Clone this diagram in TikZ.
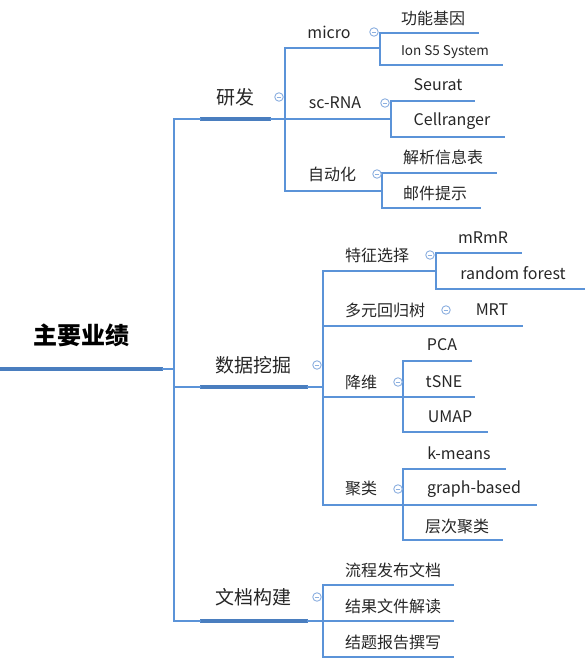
\documentclass[tikz,border=0pt]{standalone}
\usepackage{fontspec}
\setmainfont{Noto Sans CJK SC}
\definecolor{lineblue}{HTML}{5B93D8}
\definecolor{ulblue}{HTML}{4A7EBF}
\definecolor{iconblue}{HTML}{8CB0E0}
\definecolor{txt}{HTML}{262626}
\tikzset{
  conn/.style={draw=lineblue, line width=1.8pt, line cap=rect},
  ulthick/.style={draw=ulblue, line width=4pt},
  ulmid/.style={draw=lineblue, line width=2.8pt},
  lbl/.style={inner sep=0pt, text=txt, font=\fontsize{16}{18}\selectfont},
  lblsmall/.style={lbl, font=\fontsize{13.5}{16}\selectfont},
  lblone/.style={lbl, font=\fontsize{19}{22}\selectfont},
  lblroot/.style={inner sep=0pt, text=black, font=\fontsize{24}{28}\selectfont\bfseries},
  collapse/.style={circle, draw=iconblue, line width=0.9pt, minimum size=8.5pt,
    inner sep=0pt, fill=white,
    path picture={\draw[iconblue, line width=0.9pt]
      ([xshift=-2.2pt]path picture bounding box.center) --
      ([xshift=2.2pt]path picture bounding box.center);}},
}
% one topic: name, y, underline x0, underline x1, text x, text y, underline style, label style, text
\newcommand\mmtopic[9]{%
  \coordinate (#1-l) at (#3,#2);
  \coordinate (#1-r) at (#4,#2);
  \draw[#7] (#1-l) -- (#1-r);
  \node[#8] (#1) at (#5,#6) {#9};}
\begin{document}
\begin{tikzpicture}[x=1pt, y=-1pt]
\useasboundingbox (0,0) rectangle (588,662);

% spines
\coordinate (s0) at (174,0);
\coordinate (s-yf) at (285,0);
\coordinate (s-sj) at (323,0);
\coordinate (s-wd) at (323,0);
\coordinate (s-mi) at (380,0);
\coordinate (s-sc) at (391,0);
\coordinate (s-zd) at (382,0);
\coordinate (s-tz) at (436,0);
\coordinate (s-jw) at (403,0);
\coordinate (s-jl) at (403,0);

% root
\mmtopic{root}{369}{0}{163}{82}{335}{ulthick}{lblroot}{主要业绩}

% level one
\mmtopic{yf}{119}{200}{271}{235}{97}{ulthick}{lblone}{研发}
\mmtopic{sj}{387}{200}{308}{253}{365}{ulthick}{lblone}{数据挖掘}
\mmtopic{wd}{621}{200}{308}{253}{597}{ulthick}{lblone}{文档构建}

% 研发
\mmtopic{mi}{48}{295}{366}{329}{32}{ulmid}{lbl}{micro}
\mmtopic{sc}{119}{295}{377}{335}{103}{ulmid}{lbl}{sc-RNA}
\mmtopic{zd}{191}{295}{368}{332}{174}{ulmid}{lbl}{自动化}
\mmtopic{gn}{33}{391}{479}{433}{18}{ulmid}{lbl}{功能基因}
\mmtopic{ion}{65}{391}{503}{445}{52}{ulmid}{lblsmall}{Ion S5 System}
\mmtopic{se}{101}{402}{475}{438}{85}{ulmid}{lbl}{Seurat}
\mmtopic{ce}{137}{402}{505}{452}{121}{ulmid}{lbl}{Cellranger}
\mmtopic{jx}{173}{393}{497}{443}{157}{ulmid}{lbl}{解析信息表}
\mmtopic{yj}{208}{393}{481}{435}{193}{ulmid}{lbl}{邮件提示}

% 数据挖掘
\mmtopic{tz}{271}{333}{422}{377}{255}{ulmid}{lbl}{特征选择}
\mmtopic{dy}{326}{333}{438}{385}{310}{ulmid}{lbl}{多元回归树}
\mmtopic{jw}{397}{333}{390}{361}{382}{ulmid}{lbl}{降维}
\mmtopic{jl}{505}{333}{390}{361}{489}{ulmid}{lbl}{聚类}
\mmtopic{mr}{253}{447}{522}{483}{238}{ulmid}{lbl}{mRmR}
\mmtopic{rf}{289}{447}{585}{513}{273}{ulmid}{lbl}{random forest}
\mmtopic{mrt}{326}{463}{523}{492}{310}{ulmid}{lbl}{MRT}
\mmtopic{pca}{361}{415}{472}{442}{345}{ulmid}{lbl}{PCA}
\mmtopic{tsne}{397}{415}{475}{444}{382}{ulmid}{lbl}{tSNE}
\mmtopic{umap}{432}{415}{488}{450}{417}{ulmid}{lbl}{UMAP}
\mmtopic{km}{469}{415}{506}{459}{453}{ulmid}{lbl}{k-means}
\mmtopic{gb}{505}{415}{537}{474}{489}{ulmid}{lbl}{graph-based}
\mmtopic{cc}{540}{415}{503}{457}{526}{ulmid}{lbl}{层次聚类}

% 文档构建
\mmtopic{lc}{585}{333}{454}{393}{570}{ulmid}{lbl}{流程发布文档}
\mmtopic{jg}{621}{333}{454}{393}{606}{ulmid}{lbl}{结果文件解读}
\mmtopic{jt}{657}{333}{454}{393}{642}{ulmid}{lbl}{结题报告撰写}

% connectors: parent underline -> spine, spine, spine -> child underline
\draw[conn] (root-r) -- (s0 |- root-r);
\draw[conn] (s0 |- yf-l) -- (s0 |- wd-l);
\foreach \c in {yf,sj,wd} \draw[conn] (s0 |- \c-l) -- (\c-l);

\draw[conn] (yf-r) -- (s-yf |- yf-r);
\draw[conn] (s-yf |- mi-l) -- (s-yf |- zd-l);
\foreach \c in {mi,sc,zd} \draw[conn] (s-yf |- \c-l) -- (\c-l);

\draw[conn] (sj-r) -- (s-sj |- sj-r);
\draw[conn] (s-sj |- tz-l) -- (s-sj |- jl-l);
\foreach \c in {tz,dy,jw,jl} \draw[conn] (s-sj |- \c-l) -- (\c-l);

\draw[conn] (wd-r) -- (s-wd |- wd-r);
\draw[conn] (s-wd |- lc-l) -- (s-wd |- jt-l);
\foreach \c in {lc,jg,jt} \draw[conn] (s-wd |- \c-l) -- (\c-l);

\draw[conn] (mi-r) -- (s-mi |- mi-r);
\draw[conn] (s-mi |- gn-l) -- (s-mi |- ion-l);
\foreach \c in {gn,ion} \draw[conn] (s-mi |- \c-l) -- (\c-l);

\draw[conn] (sc-r) -- (s-sc |- sc-r);
\draw[conn] (s-sc |- se-l) -- (s-sc |- ce-l);
\foreach \c in {se,ce} \draw[conn] (s-sc |- \c-l) -- (\c-l);

\draw[conn] (zd-r) -- (s-zd |- zd-r);
\draw[conn] (s-zd |- jx-l) -- (s-zd |- yj-l);
\foreach \c in {jx,yj} \draw[conn] (s-zd |- \c-l) -- (\c-l);

\draw[conn] (tz-r) -- (s-tz |- tz-r);
\draw[conn] (s-tz |- mr-l) -- (s-tz |- rf-l);
\foreach \c in {mr,rf} \draw[conn] (s-tz |- \c-l) -- (\c-l);

\draw[conn] (dy-r) -- (mrt-l);

\draw[conn] (jw-r) -- (s-jw |- jw-r);
\draw[conn] (s-jw |- pca-l) -- (s-jw |- umap-l);
\foreach \c in {pca,tsne,umap} \draw[conn] (s-jw |- \c-l) -- (\c-l);

\draw[conn] (jl-r) -- (s-jl |- jl-r);
\draw[conn] (s-jl |- km-l) -- (s-jl |- cc-l);
\foreach \c in {km,gb,cc} \draw[conn] (s-jl |- \c-l) -- (\c-l);

% collapse markers
\node[collapse] (yf-ic) at (279,97) {};
\node[collapse] (sj-ic) at (317,365) {};
\node[collapse] (wd-ic) at (317,597) {};
\node[collapse] (mi-ic) at (374,32) {};
\node[collapse] (sc-ic) at (385,103) {};
\node[collapse] (zd-ic) at (377,174) {};
\node[collapse] (tz-ic) at (430,255) {};
\node[collapse] (dy-ic) at (446,310) {};
\node[collapse] (jw-ic) at (398,382) {};
\node[collapse] (jl-ic) at (398,489) {};
\end{tikzpicture}
\end{document}
